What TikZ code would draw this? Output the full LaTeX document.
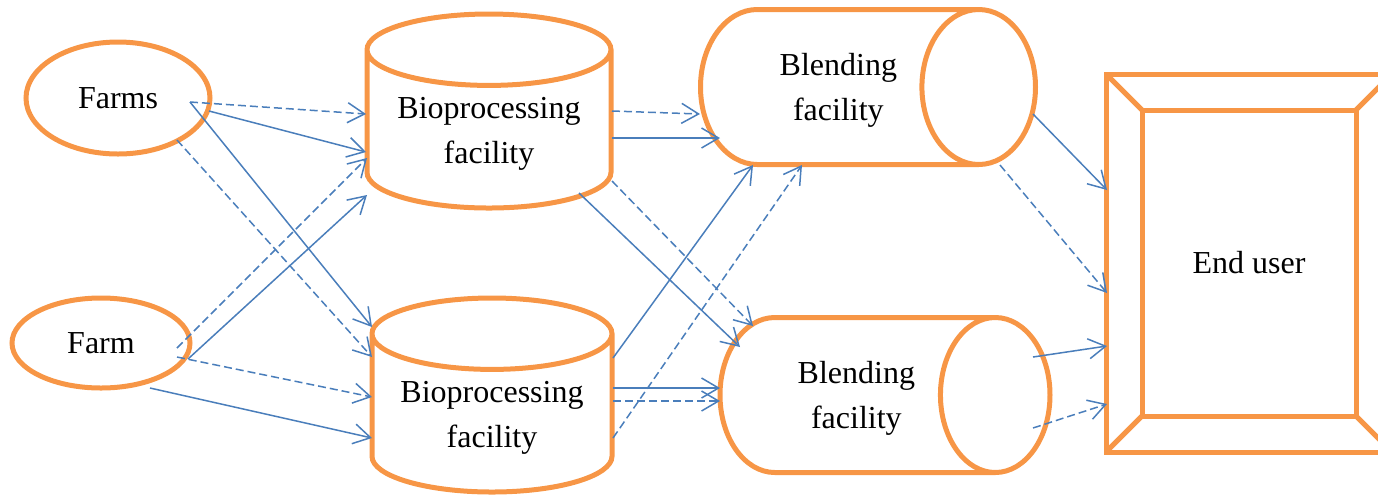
\documentclass[tikz,border=0pt]{standalone}
\usepackage{fontspec}
\setmainfont{Liberation Serif}
\usetikzlibrary{arrows.meta,shapes.geometric}
\definecolor{orng}{HTML}{F79646}
\definecolor{flowblue}{HTML}{4A7EBB}
\tikzstyle{unit} = [draw=orng, line width=2.5pt, outer sep=0pt, inner sep=0pt,
    align=center, font=\fontsize{16}{22.5}\selectfont]
\tikzstyle{src} = [unit, ellipse]
\tikzstyle{bio} = [unit, cylinder, shape border rotate=90, aspect=0.39,
    anchor=shape center, minimum height=97pt, text depth=0pt]
\tikzstyle{blend} = [unit, cylinder, anchor=shape center, minimum width=77.5pt,
    text depth=0pt]
\tikzstyle{usr} = [unit, rectangle]
\tikzstyle{flow} = [color=flowblue, line width=0.75pt,
    -{Straight Barb[length=8.5pt,width=10pt]}]
\tikzstyle{flowd} = [flow, dash pattern=on 4pt off 2pt]

\begin{document}
\begin{tikzpicture}[x=0.5pt,y=-0.5pt]
  \useasboundingbox (0,0) rectangle (1378,495);

  \node[src,minimum width=92pt,minimum height=56pt] (farms) at (118,98) {Farms};
  \node[src,minimum width=89pt,minimum height=45pt] (farm) at (101,343) {Farm};
  \node[bio,minimum width=122pt] (bioA) at (489,111) {Bioprocessing\\facility};
  \node[bio,minimum width=120pt] (bioB) at (492,395) {Bioprocessing\\facility};
  \node[blend,minimum height=167.5pt,aspect=1.69] (blendA) at (868,87) {Blending\\facility};
  \node[blend,minimum height=165pt,aspect=1.63] (blendB) at (885,395) {Blending\\facility};
  \node[usr,minimum width=143pt,minimum height=189pt] (user) at (1249,263) {End user};

  % inner frame of the end user box
  \draw[orng,line width=2.5pt] ([shift={(36,36)}]user.north west) rectangle ([shift={(-36,-36)}]user.south east);
  \foreach \c/\sx/\sy in {north west/36/36, north east/-36/36, south east/-36/-36, south west/36/-36}
    \draw[orng,line width=2.5pt] (user.\c) -- ([shift={(\sx,\sy)}]user.\c);

  % farms -> bioprocessing
  \path[flowd] ([shift={(72,4)}]farms.center)  edge ([shift={(-123,3)}]bioA.shape center);
  \path[flow]  ([shift={(91,13)}]farms.center) edge ([shift={(-123,41)}]bioA.shape center);
  \path[flow]  ([shift={(72,4)}]farms.center)  edge ([shift={(-120,-68)}]bioB.shape center);
  \path[flowd] ([shift={(59,42)}]farms.center) edge ([shift={(-120,-38)}]bioB.shape center);
  \path[flowd] ([shift={(76,5)}]farm.center)   edge ([shift={(-122,47)}]bioA.shape center);
  \path[flow]  ([shift={(87,16)}]farm.center)  edge ([shift={(-122,84)}]bioA.shape center);
  \path[flowd] ([shift={(76,14)}]farm.center)  edge ([shift={(-120,2)}]bioB.shape center);
  \path[flow]  ([shift={(49,45)}]farm.center)  edge ([shift={(-120,43)}]bioB.shape center);

  % bioprocessing -> blending
  \path[flowd] ([shift={(123,0)}]bioA.shape center)  edge ([shift={(-168,27)}]blendA.shape center);
  \path[flow]  ([shift={(123,27)}]bioA.shape center) edge ([shift={(-148,51)}]blendA.shape center);
  \path[flowd] ([shift={(123,70)}]bioA.shape center) edge ([shift={(-132,-69)}]blendB.shape center);
  \path[flow]  ([shift={(90,82)}]bioA.shape center)  edge ([shift={(-145,-48)}]blendB.shape center);
  \path[flow]  ([shift={(121,-37)}]bioB.shape center) edge ([shift={(-115,78)}]blendA.shape center);
  \path[flowd] ([shift={(121,43)}]bioB.shape center)  edge ([shift={(-66,78)}]blendA.shape center);
  \path[flow]  ([shift={(121,-7)}]bioB.shape center)  edge ([shift={(-165,-7)}]blendB.shape center);
  \path[flowd] ([shift={(121,6)}]bioB.shape center)   edge ([shift={(-165,6)}]blendB.shape center);

  % blending -> end user
  \path[flow]  ([shift={(165,27)}]blendA.shape center)  edge ([shift={(-142,-73)}]user.center);
  \path[flowd] ([shift={(132,78)}]blendA.shape center)  edge ([shift={(-142,30)}]user.center);
  \path[flow]  ([shift={(148,-38)}]blendB.shape center) edge ([shift={(-142,83)}]user.center);
  \path[flowd] ([shift={(148,33)}]blendB.shape center)  edge ([shift={(-142,141)}]user.center);
\end{tikzpicture}
\end{document}
